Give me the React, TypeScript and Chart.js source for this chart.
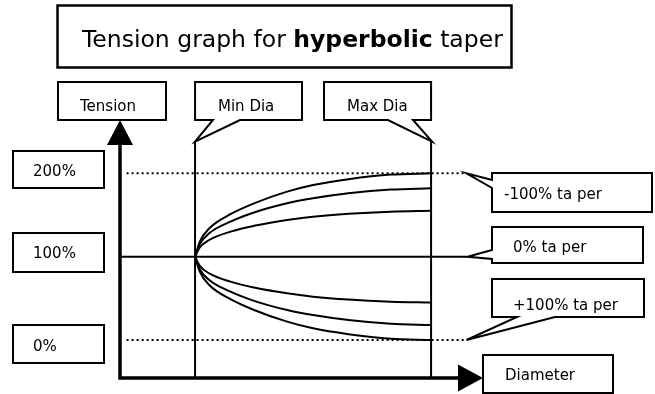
import { useEffect, useRef } from "react";
import { Chart, registerables } from "chart.js";

Chart.register(...registerables);

// ---- Data ----
// Diameter, relative: Min Dia = 1, Max Dia = 2
const diameters = [1, 1.02, 1.06, 1.15, 1.25, 1.39, 1.5, 1.65, 1.83, 2];
// Tension in % of nominal, one curve per taper
const taperMinus100 = [100, 118, 134, 151, 164, 178, 186, 193, 198.5, 200];
const taperMinus67 = [100, 115, 128, 142, 153, 164, 170, 176, 180.5, 182];
const taperMinus33 = [100, 111, 120, 130, 137, 144, 148, 151.5, 154, 155];
const taperPlus33 = [100, 89, 80, 70, 63, 56, 52, 48.5, 46, 45];
const taperPlus67 = [100, 85, 72, 58, 47, 36, 30, 24, 19.5, 18];
const taperPlus100 = [100, 82, 66, 49, 36, 22, 14, 7, 1.5, 0];

const minDia = 1;
const maxDia = 2;
const levelValues = [200, 100, 0];
const levelLabels = ["200%", "100%", "0%"];
const taperLabels = ["-100% ta per", "0% ta per", "+100% ta per"];
const axisLabels = ["Tension", "Diameter"];
const diaLabels = ["Min Dia", "Max Dia"];
const titleParts = ["Tension graph for ", "hyperbolic", " taper"];

// scale extents / reference-line extents (in data units)
const X_MIN = 0.682;
const X_MAX = 2.22;
const Y_MIN = -45.6;
const Y_MAX = 264;
const REF_END = 2.15;
const DOT_START = 0.71;
const DIA_LINE_TOP = 238;

const FONT = '"DejaVu Sans", "Liberation Sans", sans-serif';

const pts = (xs: number[], ys: number[]) => xs.map((x, i) => ({ x, y: ys[i] }));

function poly(ctx: CanvasRenderingContext2D, p: number[][], lw = 2) {
  ctx.beginPath();
  ctx.moveTo(p[0][0], p[0][1]);
  for (let i = 1; i < p.length; i++) ctx.lineTo(p[i][0], p[i][1]);
  ctx.closePath();
  ctx.fillStyle = "#fff";
  ctx.fill();
  ctx.lineWidth = lw;
  ctx.strokeStyle = "#000";
  ctx.lineJoin = "miter";
  ctx.stroke();
}

function rect(ctx: CanvasRenderingContext2D, x1: number, y1: number, x2: number, y2: number, lw = 2) {
  poly(ctx, [[x1, y1], [x2, y1], [x2, y2], [x1, y2]], lw);
}

function text(ctx: CanvasRenderingContext2D, s: string, x: number, y: number, size = 15, bold = false) {
  ctx.font = `${bold ? "bold " : ""}${size}px ${FONT}`;
  ctx.fillStyle = "#000";
  ctx.textAlign = "left";
  ctx.textBaseline = "alphabetic";
  ctx.fillText(s, x, y);
  return ctx.measureText(s).width;
}

const diagramPlugin = {
  id: "diagram",
  afterDatasetsDraw(chart: any) {
    const { ctx, chartArea: a, scales } = chart;
    const xs = scales.x;
    const ys = scales.y;
    ctx.save();

    // axes with arrows
    ctx.strokeStyle = "#000";
    ctx.fillStyle = "#000";
    ctx.lineWidth = 3.5;
    ctx.lineCap = "butt";
    ctx.beginPath();
    ctx.moveTo(a.left, a.bottom + 1.75);
    ctx.lineTo(a.left, a.top + 24);
    ctx.moveTo(a.left - 1.75, a.bottom);
    ctx.lineTo(a.right - 24, a.bottom);
    ctx.stroke();
    ctx.beginPath();
    ctx.moveTo(a.left, a.top);
    ctx.lineTo(a.left - 13, a.top + 25);
    ctx.lineTo(a.left + 13, a.top + 25);
    ctx.closePath();
    ctx.fill();
    ctx.beginPath();
    ctx.moveTo(a.right, a.bottom);
    ctx.lineTo(a.right - 25, a.bottom - 13.5);
    ctx.lineTo(a.right - 25, a.bottom + 13.5);
    ctx.closePath();
    ctx.fill();

    // title
    rect(ctx, 57.5, 5.5, 511.5, 67.5, 2.5);
    let tx = 82;
    tx += text(ctx, titleParts[0], tx, 47, 23.5);
    tx += text(ctx, titleParts[1], tx, 47, 23.5, true);
    text(ctx, titleParts[2], tx, 47, 23.5);

    // Tension box
    rect(ctx, 58, 82, 166, a.top);
    text(ctx, axisLabels[0], 80, 111);

    // Min / Max Dia callouts
    const minX = xs.getPixelForValue(minDia);
    const maxX = xs.getPixelForValue(maxDia);
    const tipY = ys.getPixelForValue(DIA_LINE_TOP);
    poly(ctx, [[minX, 82], [302, 82], [302, 120], [240, 120], [minX, tipY], [213, 120], [minX, 120]]);
    text(ctx, diaLabels[0], 218, 111);
    poly(ctx, [[324, 82], [maxX, 82], [maxX, 120], [413, 120], [maxX + 1, tipY], [388, 120], [324, 120]]);
    text(ctx, diaLabels[1], 347, 111);

    // level boxes
    const lvlBoxes = [
      [151, 188, 176],
      [233, 272, 258],
      [325, 363, 350.5],
    ];
    lvlBoxes.forEach((b, i) => {
      rect(ctx, 13, b[0], 104, b[1]);
      text(ctx, levelLabels[i], 33, b[2]);
    });

    // taper callouts
    const endX = xs.getPixelForValue(REF_END);
    const y200 = ys.getPixelForValue(levelValues[0]);
    const y100 = ys.getPixelForValue(levelValues[1]);
    const y0 = ys.getPixelForValue(levelValues[2]);
    poly(ctx, [[492, 173], [652, 173], [652, 212], [492, 212], [492, 188], [endX, y200], [492, 180]]);
    text(ctx, taperLabels[0], 504, 199);
    poly(ctx, [[492, 227], [643, 227], [643, 263], [492, 263], [492, 259], [endX + 1, y100], [492, 250]]);
    text(ctx, taperLabels[1], 513, 252);
    poly(ctx, [[492, 279], [644, 279], [644, 317], [555, 317], [endX, y0], [517, 317], [492, 317]]);
    text(ctx, taperLabels[2], 513, 310);

    // Diameter box
    rect(ctx, a.right, 355, 613, 393);
    text(ctx, axisLabels[1], 505, 380);

    ctx.restore();
  },
};

export default function App() {
  const ref = useRef<HTMLCanvasElement>(null);

  useEffect(() => {
    const curve = (data: number[]) => ({
      data: pts(diameters, data),
      borderColor: "#000",
      borderWidth: 2,
      cubicInterpolationMode: "monotone" as const,
      pointRadius: 0,
      clip: false as any,
    });
    const straight = (data: { x: number; y: number }[], width: number, dash: number[] = []) => ({
      data,
      borderColor: "#000",
      borderWidth: width,
      borderDash: dash,
      pointRadius: 0,
      tension: 0,
      clip: false as any,
    });

    const chart = new Chart(ref.current!, {
      type: "line",
      data: {
        datasets: [
          straight([{ x: X_MIN, y: levelValues[1] }, { x: REF_END, y: levelValues[1] }], 2),
          straight([{ x: DOT_START, y: levelValues[0] }, { x: REF_END, y: levelValues[0] }], 2, [2, 3]),
          straight([{ x: DOT_START, y: levelValues[2] }, { x: REF_END, y: levelValues[2] }], 2, [2, 3]),
          straight([{ x: minDia, y: Y_MIN }, { x: minDia, y: DIA_LINE_TOP }], 2),
          straight([{ x: maxDia, y: Y_MIN }, { x: maxDia, y: DIA_LINE_TOP }], 2),
          curve(taperMinus100),
          curve(taperMinus67),
          curve(taperMinus33),
          curve(taperPlus33),
          curve(taperPlus67),
          curve(taperPlus100),
        ] as any,
      },
      options: {
        responsive: false,
        animation: false,
        layout: { padding: { left: 120, right: 172, top: 120, bottom: 16 } },
        scales: {
          x: { type: "linear", min: X_MIN, max: X_MAX, display: false },
          y: { type: "linear", min: Y_MIN, max: Y_MAX, display: false },
        },
        plugins: {
          legend: { display: false },
          tooltip: { enabled: false },
          title: { display: false },
        },
        events: [],
      },
      plugins: [diagramPlugin],
    });
    return () => chart.destroy();
  }, []);

  return (
    <div style={{ position: "absolute", left: 0, top: 0, width: 655, height: 394, background: "#fff" }}>
      <canvas ref={ref} width={655} height={394} style={{ display: "block" }} />
    </div>
  );
}
